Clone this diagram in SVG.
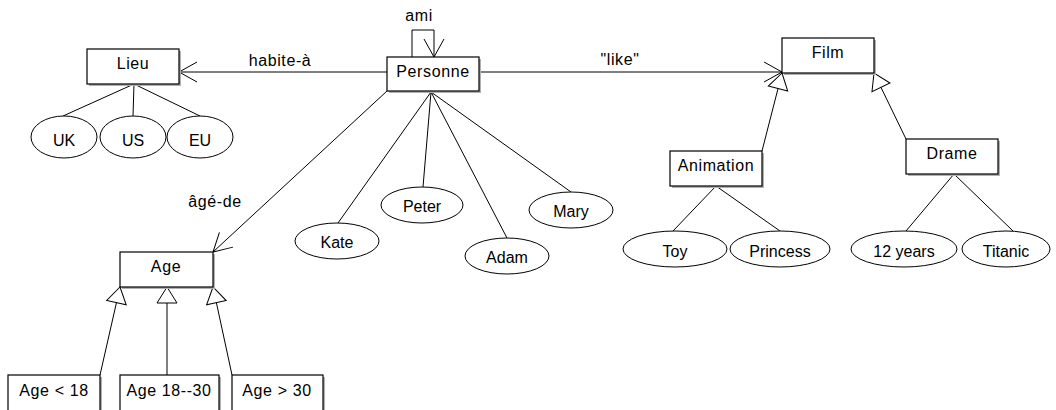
<svg xmlns="http://www.w3.org/2000/svg" width="1056" height="410" viewBox="0 0 1056 410">
<defs>
<style>
.box{fill:#fff;stroke:#000;stroke-width:1.2}
.sh{fill:#b0b0b0}
.bt{font-family:"Liberation Sans",Arial,sans-serif;font-size:16px;letter-spacing:0.6px;text-anchor:middle;fill:#000}
.et{font-family:"Liberation Sans",Arial,sans-serif;font-size:16px;text-anchor:middle;fill:#000}
.ell{fill:#fff;stroke:#000;stroke-width:1}
.ln{stroke:#000;stroke-width:1;fill:none}
</style>
<marker id="open" viewBox="-20 -12 22 24" refX="0" refY="0" markerWidth="22" markerHeight="24" orient="auto" markerUnits="userSpaceOnUse">
<path d="M-18,-10 L0,0 L-18,10" fill="none" stroke="#000" stroke-width="1"/>
</marker>
<marker id="tri" viewBox="-18 -12 20 24" refX="0" refY="0" markerWidth="20" markerHeight="24" orient="auto" markerUnits="userSpaceOnUse">
<path d="M0,0 L-16,-10 L-16,10 Z" fill="#fff" stroke="#000" stroke-width="1"/>
</marker>
</defs>
<rect width="1056" height="410" fill="#fff"/>
<g id="connectors">
<path class="ln" d="M412,57 V30 H434 V57" marker-end="url(#open)"/>
<line class="ln" x1="387" y1="72" x2="179" y2="72" marker-end="url(#open)"/>
<line class="ln" x1="479" y1="72" x2="782" y2="72" marker-end="url(#open)"/>
<line class="ln" x1="387" y1="91" x2="213" y2="252" stroke="#444" marker-end="url(#open)"/>
<line class="ln" x1="100" y1="375" x2="120" y2="287" marker-end="url(#tri)"/>
<line class="ln" x1="167" y1="375" x2="167" y2="287" marker-end="url(#tri)"/>
<line class="ln" x1="232" y1="375" x2="213" y2="287" marker-end="url(#tri)"/>
<line class="ln" x1="762" y1="151" x2="782" y2="73" marker-end="url(#tri)"/>
<line class="ln" x1="906" y1="139" x2="874" y2="73" marker-end="url(#tri)"/>
<line class="ln" x1="134" y1="84" x2="63" y2="116"/>
<line class="ln" x1="134" y1="84" x2="133" y2="116"/>
<line class="ln" x1="134" y1="84" x2="200" y2="116"/>
<line class="ln" x1="431" y1="92" x2="338" y2="223"/>
<line class="ln" x1="431" y1="92" x2="423" y2="187"/>
<line class="ln" x1="431" y1="92" x2="507" y2="238"/>
<line class="ln" x1="431" y1="92" x2="571" y2="192"/>
<line class="ln" x1="716" y1="186" x2="673" y2="231"/>
<line class="ln" x1="716" y1="186" x2="780" y2="231"/>
<line class="ln" x1="954" y1="174" x2="906" y2="231"/>
<line class="ln" x1="954" y1="174" x2="1013" y2="231"/>
<text class="bt" x="419" y="21">ami</text>
<text class="bt" x="280" y="66">habite-à</text>
<text class="bt" x="620" y="65">"like"</text>
<text class="bt" x="215" y="207">âgé-de</text>
</g>
<g id="personne"><rect class="sh" x="389" y="59" width="92" height="34"/><rect class="box" x="387" y="57" width="92" height="34"/><text class="bt" x="433" y="77">Personne</text></g>
<g id="lieu"><rect class="sh" x="89" y="51" width="92" height="35"/><rect class="box" x="87" y="49" width="92" height="35"/><text class="bt" x="133" y="69">Lieu</text></g>
<g id="film"><rect class="sh" x="784" y="40" width="92" height="35"/><rect class="box" x="782" y="38" width="92" height="35"/><text class="bt" x="828" y="58">Film</text></g>
<g id="animation"><rect class="sh" x="672" y="153" width="92" height="35"/><rect class="box" x="670" y="151" width="92" height="35"/><text class="bt" x="716" y="171">Animation</text></g>
<g id="drame"><rect class="sh" x="908" y="141" width="92" height="35"/><rect class="box" x="906" y="139" width="92" height="35"/><text class="bt" x="952" y="159">Drame</text></g>
<g id="age"><rect class="sh" x="122" y="254" width="93" height="35"/><rect class="box" x="120" y="252" width="93" height="35"/><text class="bt" x="166" y="272">Age</text></g>
<g id="age-lt18"><rect class="sh" x="10" y="377" width="92" height="45"/><rect class="box" x="8" y="375" width="92" height="45"/><text class="bt" x="54" y="396">Age &lt; 18</text></g>
<g id="age-18-30"><rect class="sh" x="122" y="377" width="99" height="45"/><rect class="box" x="120" y="375" width="99" height="45"/><text class="bt" x="169" y="396">Age 18--30</text></g>
<g id="age-gt30"><rect class="sh" x="234" y="377" width="91" height="45"/><rect class="box" x="232" y="375" width="91" height="45"/><text class="bt" x="277" y="396">Age &gt; 30</text></g>
<g id="uk"><ellipse class="ell" cx="64" cy="137" rx="33" ry="21"/><text class="et" x="64" y="146">UK</text></g>
<g id="us"><ellipse class="ell" cx="133" cy="137" rx="33" ry="21"/><text class="et" x="133" y="146">US</text></g>
<g id="eu"><ellipse class="ell" cx="200" cy="137" rx="33" ry="21"/><text class="et" x="200" y="146">EU</text></g>
<g id="kate"><ellipse class="ell" cx="337" cy="241" rx="42" ry="18"/><text class="et" x="337" y="248">Kate</text></g>
<g id="peter"><ellipse class="ell" cx="422" cy="205" rx="41" ry="18"/><text class="et" x="422" y="212">Peter</text></g>
<g id="adam"><ellipse class="ell" cx="507" cy="256" rx="42" ry="18"/><text class="et" x="507" y="263">Adam</text></g>
<g id="mary"><ellipse class="ell" cx="571" cy="210" rx="42" ry="18"/><text class="et" x="571" y="217">Mary</text></g>
<g id="toy"><ellipse class="ell" cx="675" cy="249" rx="52" ry="18"/><text class="et" x="675" y="257">Toy</text></g>
<g id="princess"><ellipse class="ell" cx="780" cy="249" rx="50" ry="18"/><text class="et" x="780" y="257">Princess</text></g>
<g id="twelve-years"><ellipse class="ell" cx="904" cy="249" rx="53" ry="18"/><text class="et" x="904" y="257">12 years</text></g>
<g id="titanic"><ellipse class="ell" cx="1006" cy="249" rx="44" ry="18"/><text class="et" x="1006" y="257">Titanic</text></g>
</svg>
